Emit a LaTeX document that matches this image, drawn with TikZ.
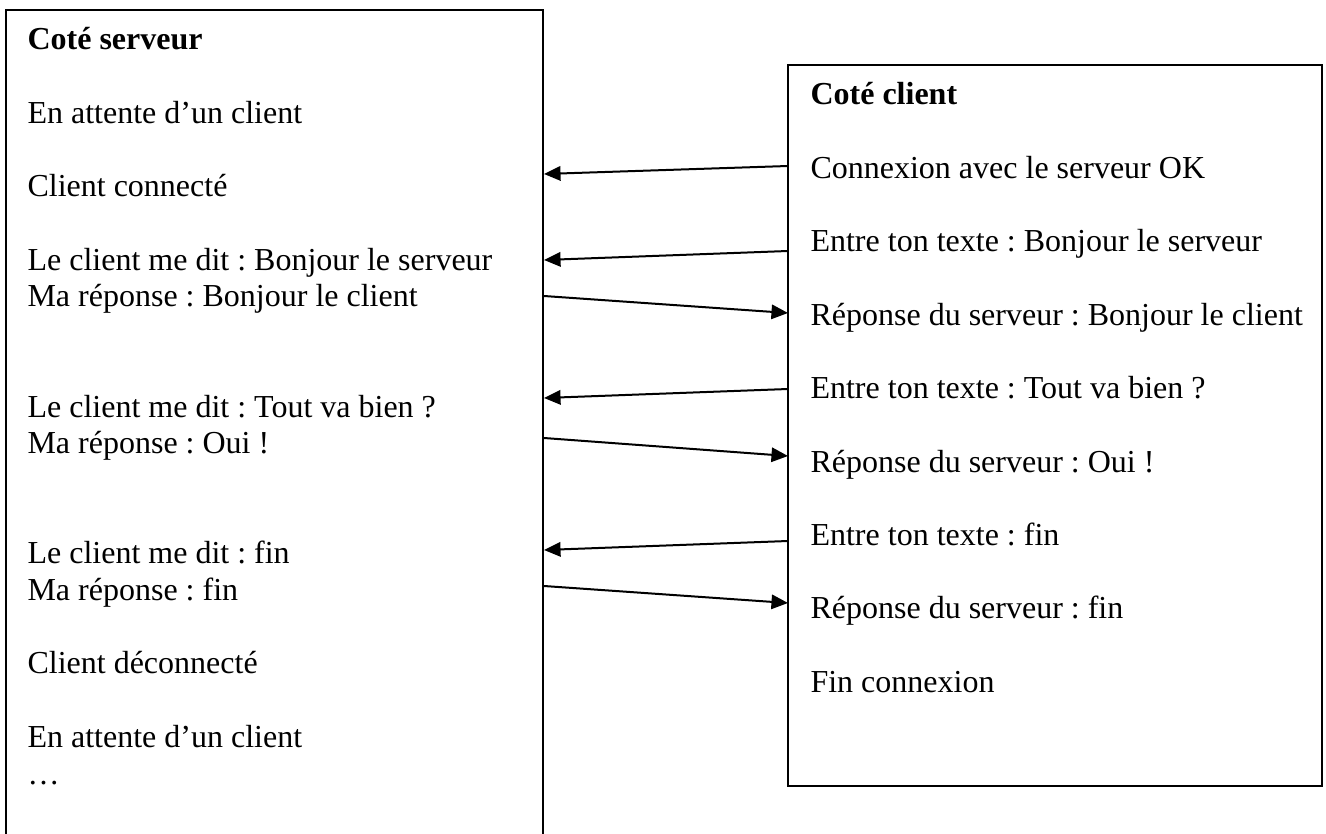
\documentclass[tikz,border=0pt]{standalone}
\usepackage{fontspec}
\setmainfont{Liberation Serif}
\usetikzlibrary{arrows.meta}
\frenchspacing

\begin{document}
\begin{tikzpicture}[x=0.375pt,y=-0.375pt,
    txt/.style={anchor=base west, inner sep=0pt, font=\fontsize{12}{13.8}\selectfont},
    titre/.style={txt, font=\fontsize{12}{13.8}\selectfont\bfseries},
    cadre/.style={line width=0.75pt},
    fleche/.style={line width=0.75pt, -{Triangle[length=6.2pt,width=5.4pt]}}]
    \useasboundingbox (0,0) rectangle (1326,834);

    % paramètres
    \pgfmathsetmacro{\h}{36.7}
    \pgfmathsetmacro{\xs}{27}
    \pgfmathsetmacro{\xc}{810}

    % cadres
    \draw [cadre] (6,840) -- (6,10) -- (543,10) -- (543,840);
    \draw [cadre] (788,65) rectangle (1322,786);

    % côté serveur
    \node[titre] (S0) at (\xs,50) {Coté serveur};
    \node[txt] (S1) at (\xs,50+2*\h) {En attente d’un client};
    \node[txt] (S2) at (\xs,50+4*\h) {Client connecté};
    \node[txt] (S3) at (\xs,50+6*\h) {Le client me dit : Bonjour le serveur};
    \node[txt] (S4) at (\xs,50+7*\h) {Ma réponse : Bonjour le client};
    \node[txt] (S5) at (\xs,50+10*\h) {Le client me dit : Tout va bien ?};
    \node[txt] (S6) at (\xs,50+11*\h) {Ma réponse : Oui !};
    \node[txt] (S7) at (\xs,50+14*\h) {Le client me dit : fin};
    \node[txt] (S8) at (\xs,50+15*\h) {Ma réponse : fin};
    \node[txt] (S9) at (\xs,50+17*\h) {Client déconnecté};
    \node[txt] (S10) at (\xs,50+19*\h) {En attente d’un client};
    \node[txt] (S11) at (\xs,50+20*\h) {…};

    % côté client
    \node[titre] (C0) at (\xc,105) {Coté client};
    \node[txt] (C1) at (\xc,105+2*\h) {Connexion avec le serveur OK};
    \node[txt] (C2) at (\xc,105+4*\h) {Entre ton texte : Bonjour le serveur};
    \node[txt] (C3) at (\xc,105+6*\h) {Réponse du serveur : Bonjour le client};
    \node[txt] (C4) at (\xc,105+8*\h) {Entre ton texte : Tout va bien ?};
    \node[txt] (C5) at (\xc,105+10*\h) {Réponse du serveur : Oui !};
    \node[txt] (C6) at (\xc,105+12*\h) {Entre ton texte : fin};
    \node[txt] (C7) at (\xc,105+14*\h) {Réponse du serveur : fin};
    \node[txt] (C8) at (\xc,105+16*\h) {Fin connexion};

    % extrémités des flèches
    \coordinate (a1) at (788,166);  \coordinate (b1) at (544,174);
    \coordinate (a2) at (788,251);  \coordinate (b2) at (544,260);
    \coordinate (b3) at (544,296);  \coordinate (a3) at (788,313);
    \coordinate (a4) at (788,389);  \coordinate (b4) at (544,398);
    \coordinate (b5) at (544,438);  \coordinate (a5) at (788,456);
    \coordinate (a6) at (788,541);  \coordinate (b6) at (544,550);
    \coordinate (b7) at (544,586);  \coordinate (a7) at (788,603);

    % flèches
    \draw [fleche] (a1) -- (b1);
    \draw [fleche] (a2) -- (b2);
    \draw [fleche] (b3) -- (a3);
    \draw [fleche] (a4) -- (b4);
    \draw [fleche] (b5) -- (a5);
    \draw [fleche] (a6) -- (b6);
    \draw [fleche] (b7) -- (a7);

\end{tikzpicture}
\end{document}
